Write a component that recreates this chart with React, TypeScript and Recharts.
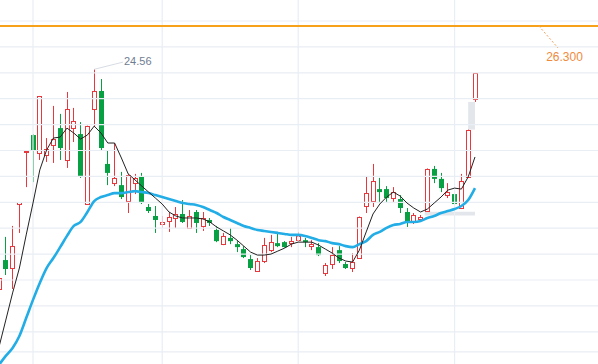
import { Bar, ComposedChart, Line, ReferenceArea, ReferenceDot, ReferenceLine, XAxis, YAxis } from "recharts";

// daily candles, left to right
const opens = [15.74, 16.90, 16.58, 19.15, 21.24, 21.92, 21.20, 21.12, 21.52, 22.20,
  20.92, 22.20, 21.96, 19.15, 22.97, 23.69, 20.76, 19.99, 19.91, 19.27,
  19.99, 20.24, 19.03, 18.67, 18.35, 18.47, 18.59, 18.75, 18.19, 18.83,
  18.27, 18.51, 18.11, 17.54, 17.79, 17.54, 17.34, 16.94, 16.46, 16.86,
  17.30, 17.58, 17.62, 17.58, 17.70, 17.70, 17.46, 17.42, 16.38, 16.74,
  17.30, 16.74, 16.58, 16.98, 19.07, 19.27, 19.75, 19.75, 19.39, 19.35,
  18.83, 18.43, 18.55, 18.87, 20.56, 20.16, 19.51, 19.55, 18.99, 20.24,
  23.37];
const highs = [16.30, 17.83, 18.27, 19.23, 21.28, 21.95, 23.49, 21.80, 23.09, 22.77,
  23.65, 23.01, 22.44, 22.30, 24.56, 24.17, 21.32, 21.60, 20.44, 20.36,
  20.36, 20.40, 19.15, 19.07, 18.67, 18.83, 19.03, 19.31, 18.91, 18.91,
  18.83, 18.59, 18.27, 17.99, 18.19, 17.66, 17.46, 17.10, 16.98, 17.79,
  17.91, 18.03, 17.66, 17.83, 18.03, 17.79, 17.70, 17.58, 16.78, 17.42,
  17.46, 16.82, 17.18, 18.65, 20.24, 20.76, 20.20, 19.87, 19.83, 19.51,
  18.99, 18.79, 18.71, 20.58, 20.68, 20.40, 19.99, 19.67, 20.36, 22.14,
  24.41];
const lows = [15.62, 16.30, 15.74, 17.99, 19.83, 20.03, 20.92, 20.84, 20.80, 20.92,
  20.60, 21.64, 20.20, 19.12, 22.24, 21.32, 19.91, 19.87, 19.35, 18.79,
  19.55, 19.15, 18.79, 17.99, 18.19, 18.03, 18.19, 18.39, 18.15, 17.99,
  18.07, 18.27, 17.62, 17.50, 17.54, 17.22, 16.98, 16.50, 16.42, 16.78,
  17.22, 17.42, 17.40, 17.42, 17.62, 17.42, 17.30, 17.06, 16.26, 16.54,
  16.78, 16.54, 16.42, 16.95, 18.79, 19.03, 19.19, 19.23, 19.19, 18.79,
  18.23, 18.35, 18.43, 18.85, 19.99, 19.63, 19.39, 19.03, 18.95, 20.22,
  23.25];
const closes = [16.18, 16.54, 17.46, 19.23, 21.28, 21.28, 23.49, 21.36, 21.76, 21.40,
  22.97, 22.48, 20.24, 22.28, 23.69, 21.40, 20.40, 20.20, 19.43, 20.32,
  20.20, 19.23, 18.87, 18.51, 18.43, 18.63, 18.75, 18.43, 18.67, 18.39,
  18.59, 18.39, 17.66, 17.87, 17.66, 17.42, 17.02, 16.58, 16.86, 17.50,
  17.62, 17.46, 17.42, 17.66, 17.87, 17.62, 17.54, 17.10, 16.70, 17.10,
  16.86, 16.58, 16.82, 18.63, 19.59, 20.08, 19.63, 19.39, 19.63, 18.99,
  18.39, 18.71, 18.63, 20.56, 20.16, 19.79, 19.63, 19.15, 20.08, 22.12,
  24.41];
const ma5 = [13.41, 14.49, 15.58, 16.58, 17.91, 19.19, 20.52, 21.32, 21.80, 21.84,
  22.20, 22.00, 21.76, 21.92, 22.28, 22.00, 21.60, 21.60, 21.00, 20.36,
  20.12, 19.87, 19.63, 19.39, 19.15, 18.83, 18.67, 18.59, 18.59, 18.59,
  18.55, 18.43, 18.23, 18.07, 17.91, 17.70, 17.46, 17.22, 17.10, 17.10,
  17.14, 17.26, 17.38, 17.54, 17.62, 17.62, 17.62, 17.50, 17.34, 17.18,
  16.98, 16.86, 16.82, 17.30, 18.03, 18.75, 19.15, 19.43, 19.63, 19.47,
  19.19, 18.99, 18.83, 18.95, 19.19, 19.43, 19.71, 19.79, 19.75, 20.24,
  21.04];
const ma20 = [12.69, 13.05, 13.37, 13.85, 14.57, 15.30, 15.98, 16.58, 16.98, 17.42,
  17.87, 18.27, 18.43, 18.83, 19.27, 19.43, 19.51, 19.59, 19.59, 19.63,
  19.67, 19.63, 19.59, 19.51, 19.43, 19.35, 19.27, 19.19, 19.15, 19.11,
  19.03, 18.91, 18.79, 18.63, 18.51, 18.39, 18.27, 18.19, 18.11, 18.07,
  18.03, 17.99, 17.95, 17.91, 17.91, 17.87, 17.79, 17.70, 17.66, 17.58,
  17.54, 17.46, 17.42, 17.54, 17.66, 17.91, 18.03, 18.19, 18.31, 18.35,
  18.43, 18.43, 18.47, 18.59, 18.67, 18.79, 18.87, 18.95, 19.07, 19.31,
  19.79];

const gridPrices = [26.50, 25.46, 24.42, 23.38, 22.34, 21.30, 20.26, 19.22, 18.18, 17.14, 16.10, 15.06, 14.02, 13.21];
const gridDays = [5, 24, 44, 67];
const targetPrice = 26.3;
const peakDay = 14;

const rows = opens.map((open, i) => ({
  day: i, open, high: highs[i], low: lows[i], close: closes[i], ma5: ma5[i], ma20: ma20[i]
}));

const UP = "#e8383d";
const DOWN = "#07a043";
const FONT = "'Liberation Sans', Arial, sans-serif";

const Candle = (props: any) => {
  const { x, y, width, height, payload } = props;
  if (x == null || !payload) return null;
  const { open, high, low, close } = payload;
  const ratio = height / (high - low);
  const cx = Math.floor(x + width / 2) + 0.5;
  const yo = y + (high - open) * ratio;
  const yc = y + (high - close) * ratio;
  const top = Math.min(yo, yc);
  const bottom = Math.max(yo, yc);
  if (close >= open) {
    const t = Math.round(top) + 0.5;
    const b = Math.max(Math.round(bottom) + 0.5, t + 1);
    return <g>
      <line x1={cx} x2={cx} y1={y} y2={t} stroke={UP} />
      <line x1={cx} x2={cx} y1={b} y2={y + height} stroke={UP} />
      <rect x={cx - 2} y={t} width={4} height={b - t} fill="#fff" stroke={UP} />
    </g>;
  }
  return <g>
    <line x1={cx} x2={cx} y1={y} y2={y + height} stroke={DOWN} />
    <rect x={cx - 2.5} y={top} width={5} height={Math.max(bottom - top, 1)} fill={DOWN} />
  </g>;
};

export default function App() {
  return (
    <div style={{ position: "absolute", left: 0, top: 0, background: "#fff" }}>
      <ComposedChart width={598} height={364} data={rows} margin={{ top: 0, right: 0, bottom: 0, left: 0 }}>
        <XAxis type="number" dataKey="day" domain={[0.147, 88.09]} allowDataOverflow hide />
        <YAxis type="number" domain={[12.726, 27.344]} allowDataOverflow hide />
        {gridPrices.map(p => <ReferenceLine key={"h" + p} y={p} stroke="#e9eef4" strokeWidth={1.2} />)}
        {gridDays.map(d => <ReferenceLine key={"v" + d} x={d} stroke="#e9eef4" strokeWidth={1.2} />)}
        <ReferenceArea x1={62.6} x2={70} y1={18.69} y2={18.84} fill="#e3e6eb" fillOpacity={1} stroke="none" />
        <ReferenceArea x1={69} x2={70} y1={22.14} y2={23.25} fill="#e3e6eb" fillOpacity={1} stroke="none" />
        <Bar dataKey={(d: any) => [d.low, d.high]} barSize={5} shape={<Candle />} isAnimationActive={false} />
        <Line dataKey="ma20" type="monotone" dot={false} stroke="#22ade6" strokeWidth={2.6} isAnimationActive={false} />
        <Line dataKey="ma5" type="linear" dot={false} stroke="#222" strokeWidth={1} isAnimationActive={false} />
        <ReferenceLine y={targetPrice} stroke="#f7a11a" strokeWidth={2.2} />
        <ReferenceLine segment={[{ x: 79.4, y: targetPrice }, { x: 82.2, y: 25.42 }]} stroke="#f5a15a" strokeDasharray="2 2" />
        <ReferenceDot x={83.16} y={25.055} shape={(p: any) =>
          <text x={p.cx} y={p.cy} textAnchor="middle" dominantBaseline="central" fontFamily={FONT} fontSize={12} fill="#f08a3c">26.300</text>} />
        <ReferenceLine segment={[{ x: peakDay, y: 24.56 }, { x: 18.24, y: 24.85 }]} stroke="#d8dde4" />
        <ReferenceDot x={18.38} y={24.895} shape={(p: any) =>
          <text x={p.cx} y={p.cy} textAnchor="start" dominantBaseline="central" fontFamily={FONT} fontSize={11} fill="#6f7d92">24.56</text>} />
      </ComposedChart>
    </div>
  );
}
